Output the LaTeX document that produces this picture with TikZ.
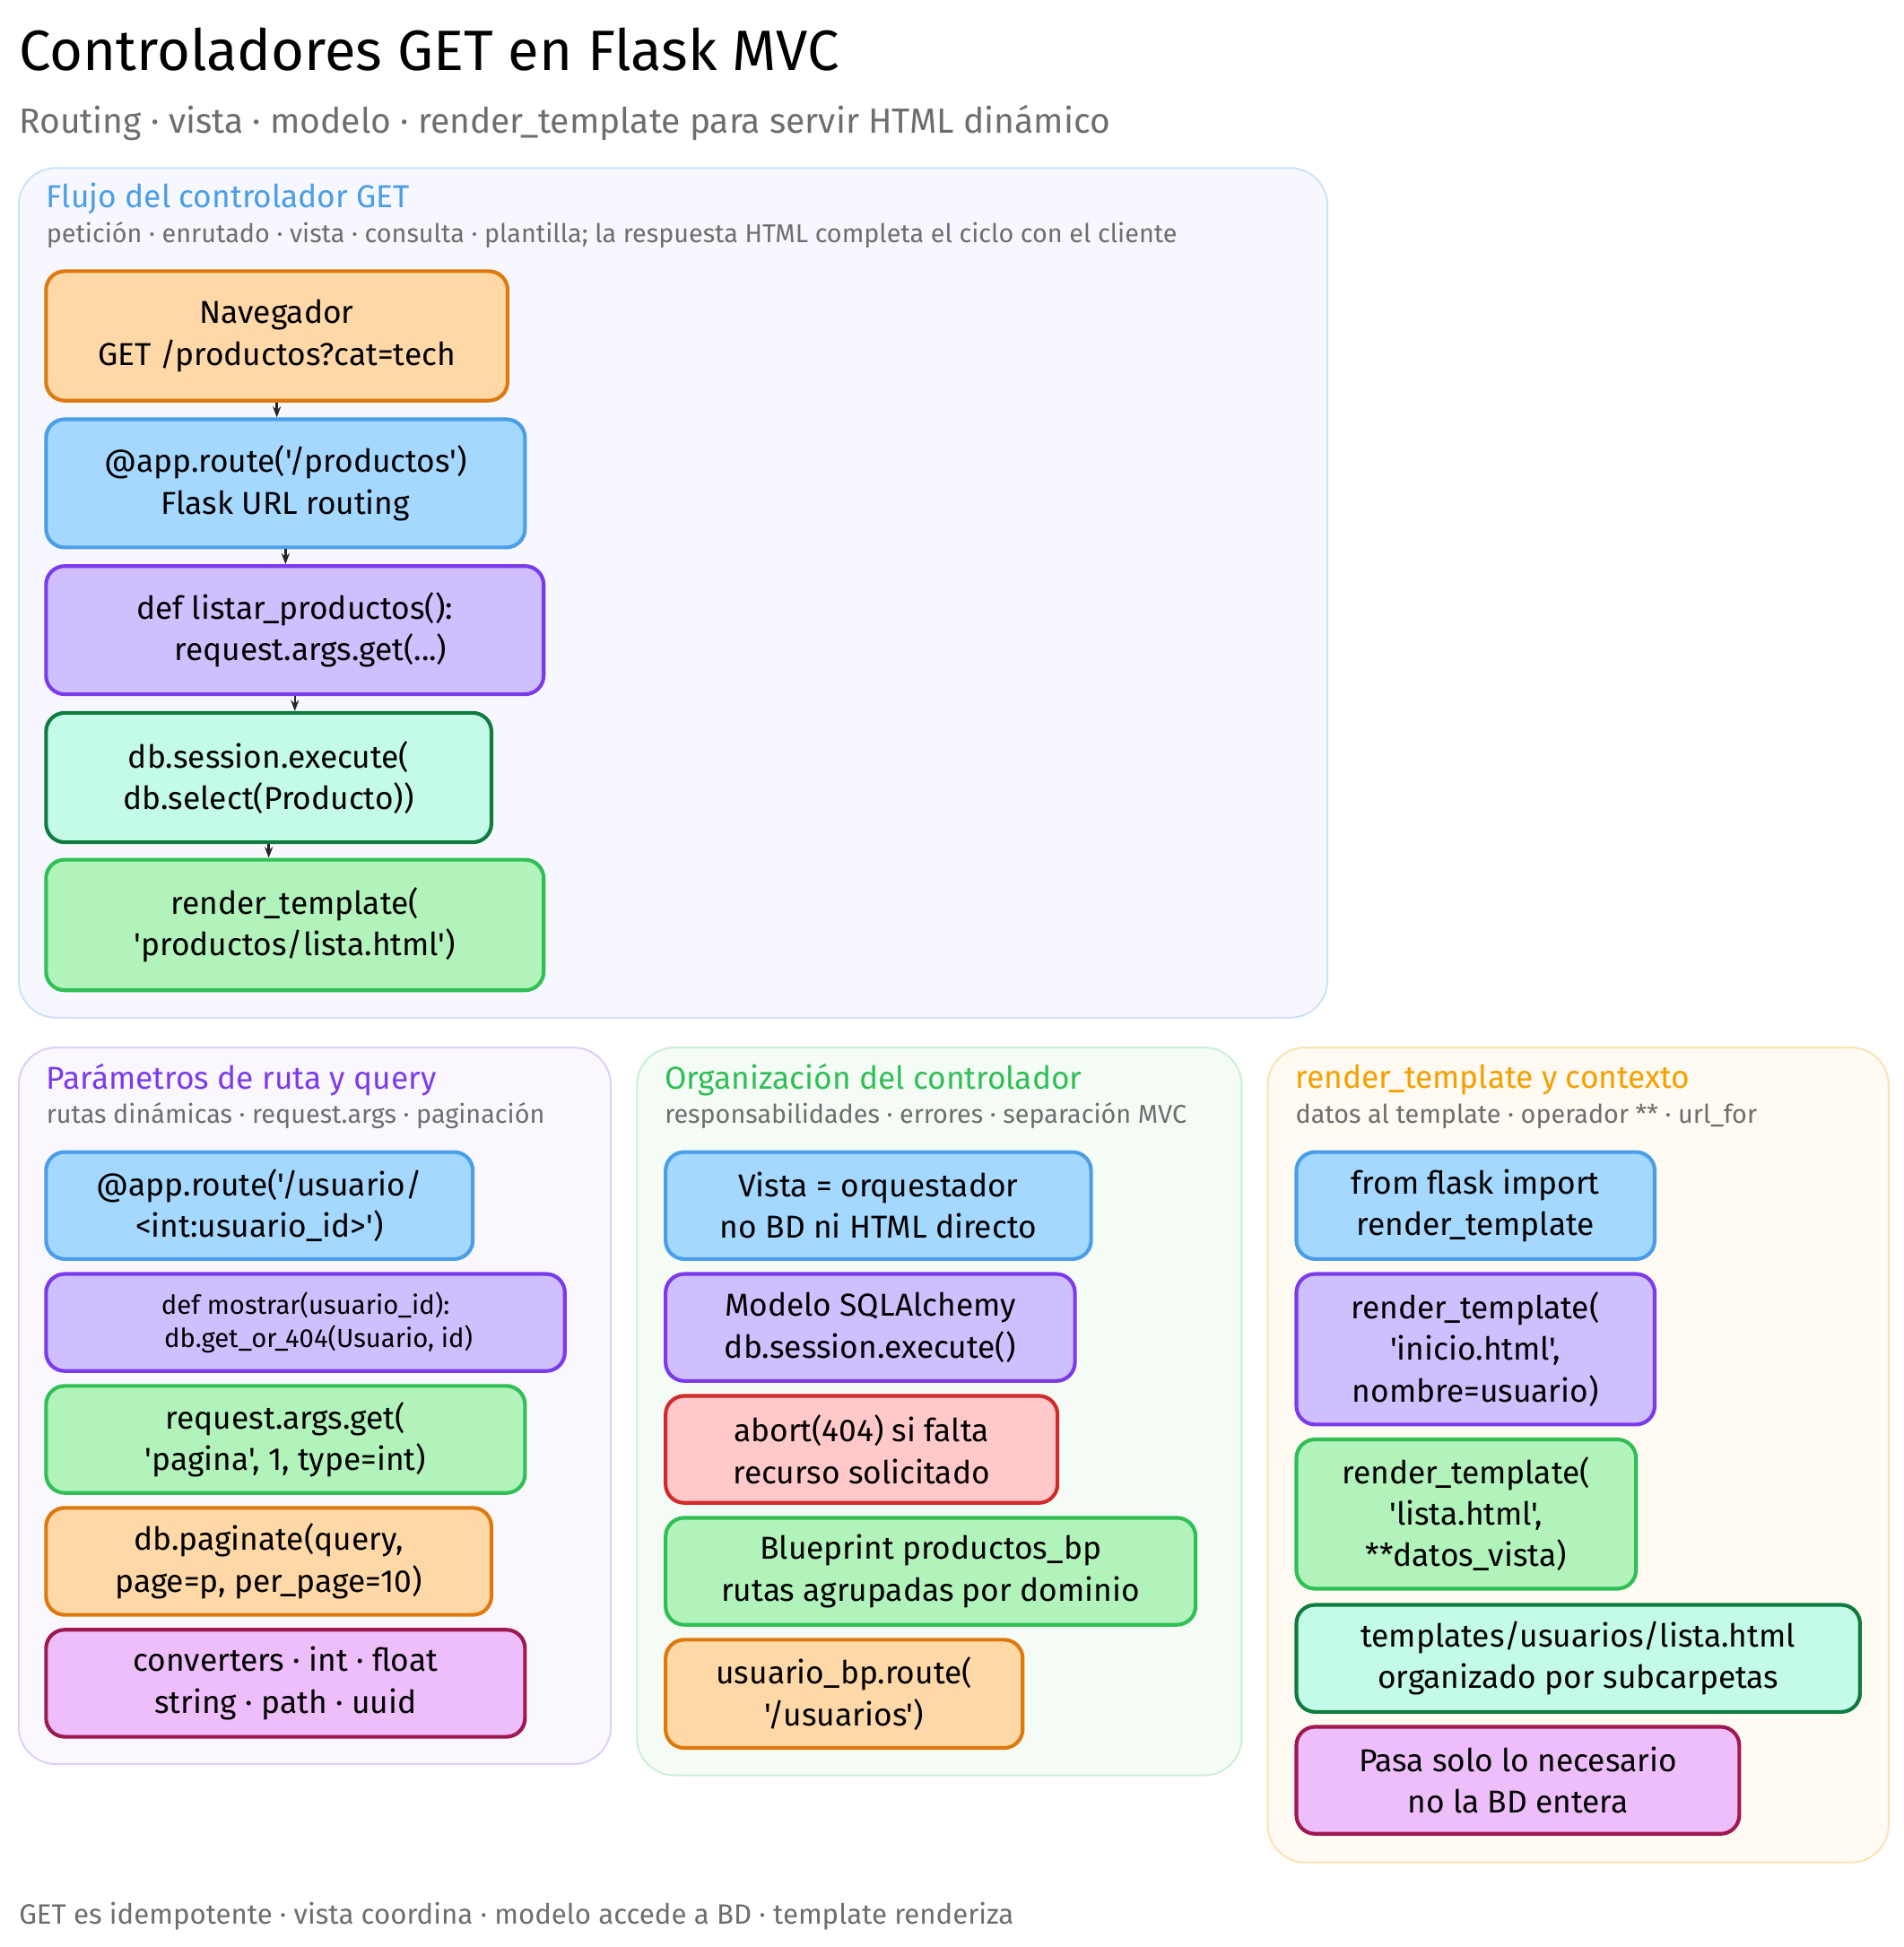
\documentclass[tikz,border=0pt]{standalone}
\usepackage{fontspec}
\setmainfont{Fira Sans}[Ligatures=TeXOff]
\usetikzlibrary{arrows.meta}
\definecolor{oF}{HTML}{FFD8A8}\definecolor{oD}{HTML}{DD7A0E}
\definecolor{bF}{HTML}{A5D8FF}\definecolor{bD}{HTML}{4A9EE8}
\definecolor{pF}{HTML}{D0BFFF}\definecolor{pD}{HTML}{7C3AED}
\definecolor{tF}{HTML}{C3FAE8}\definecolor{tD}{HTML}{0F7B3F}
\definecolor{gF}{HTML}{B2F2BB}\definecolor{gD}{HTML}{2FBF55}
\definecolor{rF}{HTML}{FFC9C9}\definecolor{rD}{HTML}{D02A2A}
\definecolor{kF}{HTML}{EEBEFA}\definecolor{kD}{HTML}{A01850}
\definecolor{yD}{HTML}{F5A000}
\definecolor{gr}{HTML}{6E6E6E}
\tikzset{
 box/.style={rounded corners=0.3cm,line width=1.7pt,align=center,font=\fontsize{14.5}{19}\selectfont,inner sep=2pt},
 O/.style={fill=oF,draw=oD},B/.style={fill=bF,draw=bD},P/.style={fill=pF,draw=pD},
 T/.style={fill=tF,draw=tD},G/.style={fill=gF,draw=gD},R/.style={fill=rF,draw=rD},K/.style={fill=kF,draw=kD},
 panel/.style={rounded corners=0.6cm,line width=0.8pt},
 ptitle/.style={anchor=west,inner sep=0pt,font=\fontsize{14.5}{17}\selectfont},
 psub/.style={anchor=west,inner sep=0pt,font=\fontsize{11.8}{14}\selectfont,text=gr},
 arr/.style={-{Stealth[length=5pt]},line width=1pt,draw=black!85}
}
\newcommand\bx[7]{%
 \pgfmathsetmacro\bw{(#4-#2)*0.02}\pgfmathsetmacro\bh{(#5-#3)*0.02}%
 \node[box,#6,minimum width=\bw cm,minimum height=\bh cm] (#1) at ({(#2+#4)/2},{(#3+#5)/2}) {#7};}
\begin{document}
\begin{tikzpicture}[x=0.02cm,y=-0.02cm]
\useasboundingbox (0,0) rectangle (1530,1565);
\node[anchor=west,inner sep=0pt,font=\fontsize{26}{30}\selectfont] (title) at (15,40) {Controladores GET en Flask MVC};
\node[anchor=west,inner sep=0pt,font=\fontsize{16}{19}\selectfont,text=gr] (sub) at (15,99) {Routing · vista · modelo · render\_template para servir HTML dinámico};
% panel 1
\draw[panel,fill=blue!3,draw=bD!30] (15,135) rectangle (1067,818);
\node[ptitle,text=bD] (p1t) at (37,160) {Flujo del controlador GET};
\node[psub] (p1s) at (37,189) {petición · enrutado · vista · consulta · plantilla; la respuesta HTML completa el ciclo con el cliente};
\bx{nav}{37}{218}{408}{322}{O}{Navegador\\GET /productos?cat=tech}
\bx{route}{37}{337}{422}{440}{B}{@app.route('/productos')\\Flask URL routing}
\bx{def}{37}{455}{437}{558}{P}{def listar\_productos():\\\quad request.args.get(...)}
\bx{db}{37}{573}{395}{677}{T}{db.session.execute(\\db.select(Producto))}
\bx{rend}{37}{691}{437}{796}{G}{render\_template(\\'productos/lista.html')}
\draw[arr] (nav.south) -- (nav.south |- route.north);
\draw[arr] (route.south) -- (route.south |- def.north);
\draw[arr] (def.south) -- (def.south |- db.north);
\draw[arr] (db.south) -- (db.south |- rend.north);
% panel 2
\draw[panel,fill=pD!4,draw=pD!25] (15,842) rectangle (491,1418);
\node[ptitle,text=pD] (p2t) at (37,868) {Parámetros de ruta y query};
\node[psub] (p2s) at (37,897) {rutas dinámicas · request.args · paginación};
\bx{a1}{37}{926}{380}{1012}{B}{@app.route('/usuario/\\<int:usuario\_id>')}
\bx{a2}{37}{1024}{454}{1102}{P,font=\fontsize{12}{15}\selectfont}{def mostrar(usuario\_id):\\\quad db.get\_or\_404(Usuario, id)}
\bx{a3}{37}{1114}{422}{1200}{G}{request.args.get(\\'pagina', 1, type=int)}
\bx{a4}{37}{1212}{395}{1298}{O}{db.paginate(query,\\page=p, per\_page=10)}
\bx{a5}{37}{1310}{422}{1396}{K}{converters · int · float\\string · path · uuid}
% panel 3
\draw[panel,fill=gD!5,draw=gD!25] (512,842) rectangle (998,1427);
\node[ptitle,text=gD] (p3t) at (534,868) {Organización del controlador};
\node[psub] (p3s) at (534,897) {responsabilidades · errores · separación MVC};
\bx{b1}{535}{926}{877}{1012}{B}{Vista = orquestador\\no BD ni HTML directo}
\bx{b2}{535}{1024}{864}{1110}{P}{Modelo SQLAlchemy\\db.session.execute()}
\bx{b3}{535}{1122}{850}{1208}{R}{abort(404) si falta\\recurso solicitado}
\bx{b4}{535}{1220}{961}{1306}{G}{Blueprint productos\_bp\\rutas agrupadas por dominio}
\bx{b5}{535}{1318}{822}{1405}{O}{usuario\_bp.route(\\'/usuarios')}
% panel 4
\draw[panel,fill=yD!5,draw=yD!30] (1019,842) rectangle (1518,1497);
\node[ptitle,text=yD] (p4t) at (1041,868) {render\_template y contexto};
\node[psub] (p4s) at (1041,897) {datos al template · operador ** · url\_for};
\bx{c1}{1042}{926}{1330}{1012}{B}{from flask import\\render\_template}
\bx{c2}{1042}{1024}{1330}{1145}{P}{render\_template(\\'inicio.html',\\nombre=usuario)}
\bx{c3}{1042}{1157}{1315}{1277}{G}{render\_template(\\'lista.html',\\**datos\_vista)}
\bx{c4}{1042}{1290}{1495}{1376}{T}{templates/usuarios/lista.html\\organizado por subcarpetas}
\bx{c5}{1042}{1388}{1398}{1474}{K}{Pasa solo lo necesario\\no la BD entera}
\node[anchor=west,inner sep=0pt,font=\fontsize{12.8}{15}\selectfont,text=gr] (foot) at (15,1540) {GET es idempotente · vista coordina · modelo accede a BD · template renderiza};
\end{tikzpicture}
\end{document}
